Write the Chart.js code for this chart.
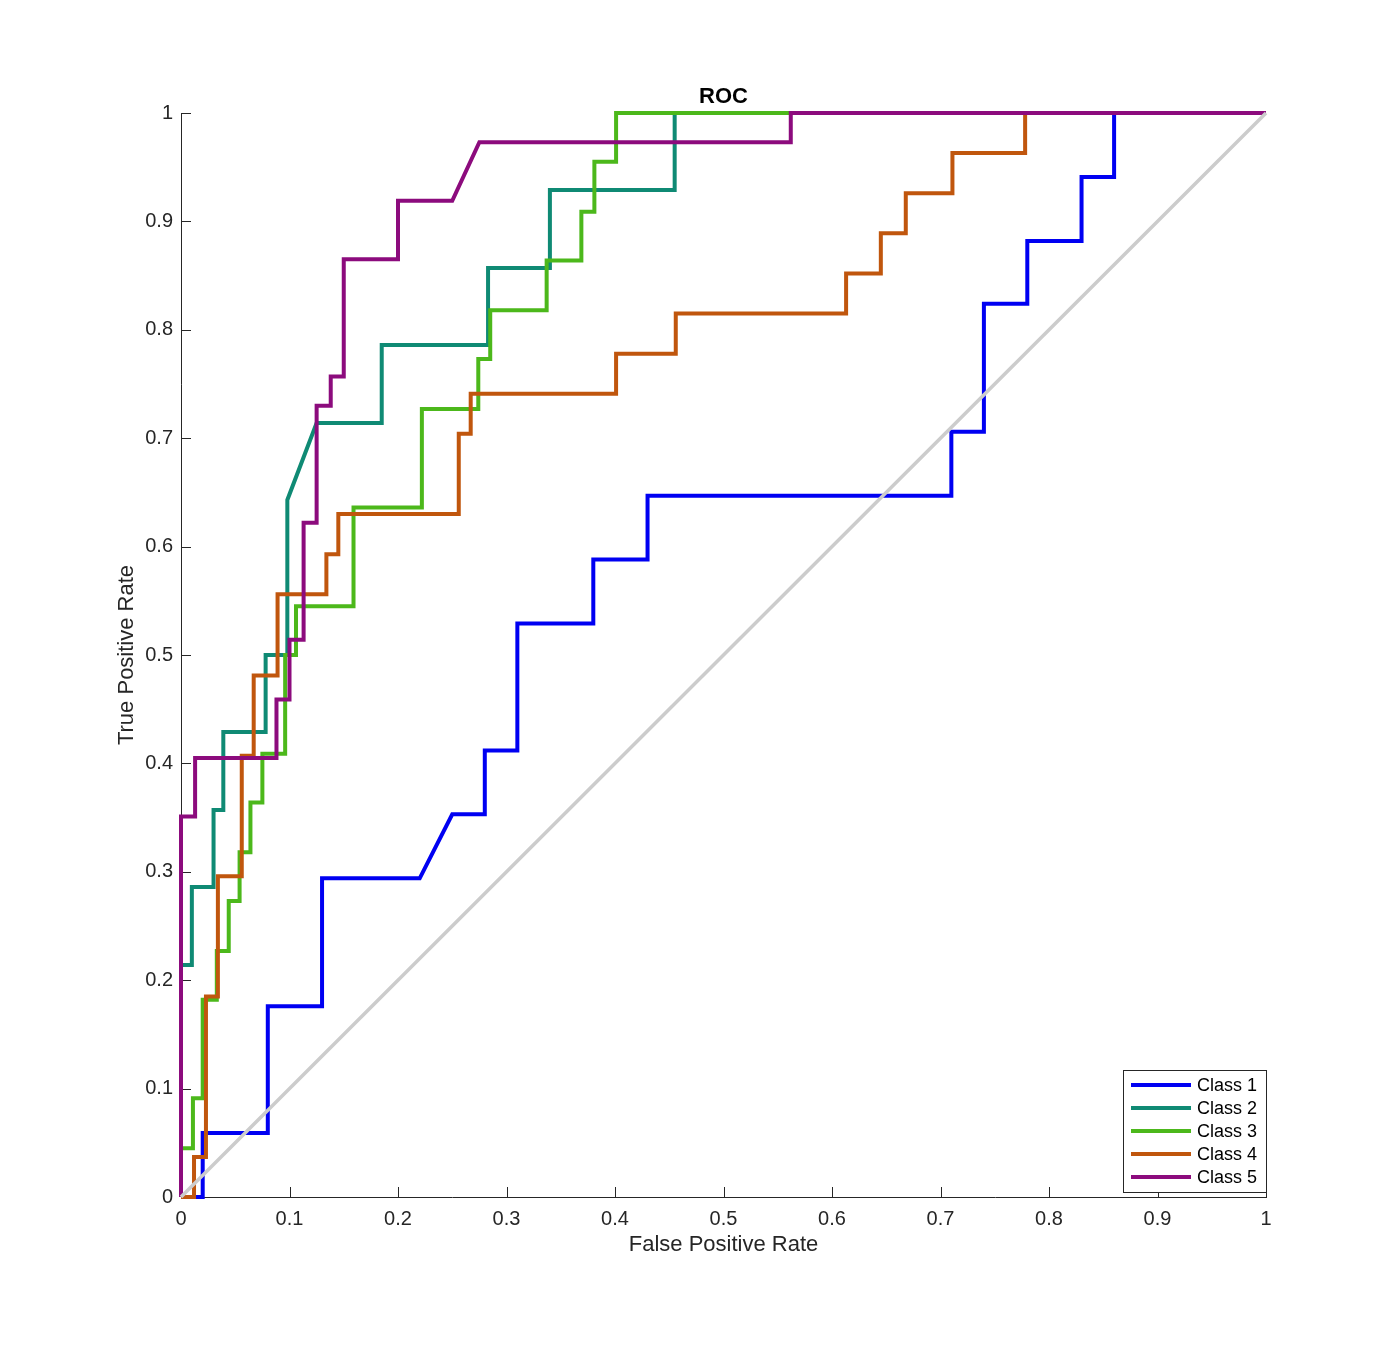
<!DOCTYPE html>
<html>
<head>
<meta charset="utf-8">
<title>ROC</title>
<script src="https://cdn.jsdelivr.net/npm/chart.js@4.4.1/dist/chart.umd.min.js"></script>
<style>
  html, body { margin: 0; padding: 0; background: #fff; }
  #wrap { width: 1400px; height: 1356px; }
</style>
</head>
<body>
<div id="wrap"><canvas id="rocChart" width="1400" height="1356"></canvas></div>
<script>
// ROC curves (false positive rate, true positive rate)
const fpr1 = [0, 0.02, 0.02, 0.08, 0.08, 0.13, 0.13, 0.22, 0.25, 0.28, 0.28, 0.31, 0.31, 0.38, 0.38, 0.43, 0.43, 0.71, 0.71, 0.74, 0.74, 0.78, 0.78, 0.83, 0.83, 0.86, 0.86, 1];
const tpr1 = [0, 0, 0.059, 0.059, 0.176, 0.176, 0.294, 0.294, 0.353, 0.353, 0.412, 0.412, 0.529, 0.529, 0.588, 0.588, 0.647, 0.647, 0.706, 0.706, 0.824, 0.824, 0.882, 0.882, 0.941, 0.941, 1, 1];

const fpr2 = [0, 0, 0.01, 0.01, 0.03, 0.03, 0.039, 0.039, 0.078, 0.078, 0.098, 0.098, 0.125, 0.185, 0.185, 0.283, 0.283, 0.34, 0.34, 0.455, 0.455, 1];
const tpr2 = [0, 0.214, 0.214, 0.286, 0.286, 0.357, 0.357, 0.429, 0.429, 0.5, 0.5, 0.643, 0.714, 0.714, 0.786, 0.786, 0.857, 0.857, 0.929, 0.929, 1, 1];

const fpr3 = [0, 0, 0.011, 0.011, 0.02, 0.02, 0.033, 0.033, 0.044, 0.044, 0.054, 0.054, 0.064, 0.064, 0.075, 0.075, 0.096, 0.096, 0.106, 0.106, 0.159, 0.159, 0.222, 0.222, 0.274, 0.274, 0.285, 0.285, 0.337, 0.337, 0.369, 0.369, 0.381, 0.381, 0.401, 0.401, 1];
const tpr3 = [0, 0.045, 0.045, 0.091, 0.091, 0.182, 0.182, 0.227, 0.227, 0.273, 0.273, 0.318, 0.318, 0.364, 0.364, 0.409, 0.409, 0.5, 0.5, 0.545, 0.545, 0.636, 0.636, 0.727, 0.727, 0.773, 0.773, 0.818, 0.818, 0.864, 0.864, 0.909, 0.909, 0.955, 0.955, 1, 1];

const fpr4 = [0, 0.012, 0.012, 0.023, 0.023, 0.034, 0.034, 0.056, 0.056, 0.067, 0.067, 0.089, 0.089, 0.134, 0.134, 0.145, 0.145, 0.256, 0.256, 0.267, 0.267, 0.401, 0.401, 0.456, 0.456, 0.613, 0.613, 0.645, 0.645, 0.668, 0.668, 0.711, 0.711, 0.778, 0.778, 1];
const tpr4 = [0, 0, 0.037, 0.037, 0.185, 0.185, 0.296, 0.296, 0.407, 0.407, 0.481, 0.481, 0.556, 0.556, 0.593, 0.593, 0.63, 0.63, 0.704, 0.704, 0.741, 0.741, 0.778, 0.778, 0.815, 0.815, 0.852, 0.852, 0.889, 0.889, 0.926, 0.926, 0.963, 0.963, 1, 1];

const fpr5 = [0, 0, 0.013, 0.013, 0.088, 0.088, 0.1, 0.1, 0.113, 0.113, 0.125, 0.125, 0.138, 0.138, 0.15, 0.15, 0.2, 0.2, 0.25, 0.275, 0.562, 0.562, 1];
const tpr5 = [0, 0.351, 0.351, 0.405, 0.405, 0.459, 0.459, 0.514, 0.514, 0.622, 0.622, 0.73, 0.73, 0.757, 0.757, 0.865, 0.865, 0.919, 0.919, 0.973, 0.973, 1, 1];

// chance line
const chanceX = [0, 1];
const chanceY = [0, 1];

const classLabels = ['Class 1', 'Class 2', 'Class 3', 'Class 4', 'Class 5'];
const classColors = ['#0000f2', '#0f8a74', '#4cb81b', '#c0560d', '#8c0b7d'];
const tickValues = [0, 0.1, 0.2, 0.3, 0.4, 0.5, 0.6, 0.7, 0.8, 0.9, 1];
const tickLabels = ['0', '0.1', '0.2', '0.3', '0.4', '0.5', '0.6', '0.7', '0.8', '0.9', '1'];
const chartTitle = 'ROC';

const axisColor = '#262626';
const fontFamily = '"Liberation Sans", Arial, Helvetica, sans-serif';

const toPoints = (xs, ys) => xs.map((x, i) => ({ x: x, y: ys[i] }));

const curves = [
  toPoints(fpr1, tpr1),
  toPoints(fpr2, tpr2),
  toPoints(fpr3, tpr3),
  toPoints(fpr4, tpr4),
  toPoints(fpr5, tpr5)
];

// later classes sit on top, chance line on top of everything
const datasets = curves.map((pts, i) => ({
  label: classLabels[i],
  data: pts,
  borderColor: classColors[i],
  backgroundColor: classColors[i],
  borderWidth: 4,
  showLine: true,
  pointRadius: 0,
  pointHoverRadius: 0,
  tension: 0,
  clip: false,
  order: 10 - i
}));
datasets.push({
  label: 'chance',
  data: toPoints(chanceX, chanceY),
  borderColor: '#cccccc',
  borderWidth: 3.5,
  showLine: true,
  pointRadius: 0,
  pointHoverRadius: 0,
  clip: false,
  order: 0
});

// MATLAB-style inward ticks
const inwardTicks = {
  id: 'inwardTicks',
  beforeDatasetsDraw(chart) {
    const { ctx, chartArea, scales } = chart;
    const len = 10;
    ctx.save();
    ctx.strokeStyle = axisColor;
    ctx.lineWidth = 1;
    ctx.beginPath();
    tickValues.forEach(v => {
      const px = Math.round(scales.x.getPixelForValue(v)) + 0.5;
      ctx.moveTo(px, chartArea.bottom);
      ctx.lineTo(px, chartArea.bottom - len);
      const py = Math.round(scales.y.getPixelForValue(v)) + 0.5;
      ctx.moveTo(chartArea.left, py);
      ctx.lineTo(chartArea.left + len, py);
    });
    ctx.stroke();
    ctx.restore();
  }
};

// title centred over the axes, as MATLAB does
const axesTitle = {
  id: 'axesTitle',
  afterDraw(chart) {
    const { ctx, chartArea } = chart;
    ctx.save();
    ctx.font = 'bold 22px ' + fontFamily;
    ctx.fillStyle = '#000000';
    ctx.textAlign = 'center';
    ctx.textBaseline = 'middle';
    ctx.fillText(chartTitle, (chartArea.left + chartArea.right) / 2, chartArea.top - 16);
    ctx.restore();
  }
};

// boxed legend in the lower right corner
const boxLegend = {
  id: 'boxLegend',
  afterDraw(chart) {
    const { ctx, chartArea } = chart;
    const rowH = 23;
    const boxW = 143;
    const boxH = 122;
    const x0 = chartArea.right - boxW;
    const y0 = chartArea.bottom - boxH - 5;
    ctx.save();
    ctx.fillStyle = '#ffffff';
    ctx.fillRect(x0, y0, boxW, boxH);
    ctx.strokeStyle = axisColor;
    ctx.lineWidth = 1;
    ctx.strokeRect(Math.round(x0) + 0.5, Math.round(y0) + 0.5, boxW, boxH);
    ctx.font = '18px ' + fontFamily;
    ctx.textBaseline = 'middle';
    ctx.textAlign = 'left';
    classLabels.forEach((lab, i) => {
      const cy = y0 + 15 + i * rowH;
      ctx.strokeStyle = classColors[i];
      ctx.lineWidth = 4;
      ctx.beginPath();
      ctx.moveTo(x0 + 8, cy);
      ctx.lineTo(x0 + 68, cy);
      ctx.stroke();
      ctx.fillStyle = '#000000';
      ctx.fillText(lab, x0 + 74, cy + 1);
    });
    ctx.restore();
  }
};

const axisBase = {
  type: 'linear',
  min: 0,
  max: 1,
  afterBuildTicks: scale => {
    scale.ticks = tickValues.map(v => ({ value: v }));
  },
  grid: { display: true, drawOnChartArea: false, drawTicks: false },
  border: { display: true, color: axisColor, width: 1 }
};

new Chart(document.getElementById('rocChart'), {
  type: 'scatter',
  data: { datasets: datasets },
  plugins: [inwardTicks, axesTitle, boxLegend],
  options: {
    responsive: false,
    animation: false,
    devicePixelRatio: 1,
    layout: { padding: { left: 100, right: 134, top: 113, bottom: 89 } },
    scales: {
      x: Object.assign({}, axisBase, {
        position: 'bottom',
        afterFit: scale => { scale.height = 70; },
        ticks: {
          padding: 10,
          color: axisColor,
          font: { family: fontFamily, size: 20 },
          maxRotation: 0,
          callback: (v, i) => tickLabels[i]
        },
        title: {
          display: true,
          text: 'False Positive Rate',
          color: axisColor,
          font: { family: fontFamily, size: 22 },
          padding: { top: 0, bottom: 9 }
        }
      }),
      y: Object.assign({}, axisBase, {
        position: 'left',
        afterFit: scale => { scale.width = 81; },
        ticks: {
          padding: 8,
          color: axisColor,
          font: { family: fontFamily, size: 20 },
          callback: (v, i) => tickLabels[i]
        },
        title: {
          display: true,
          text: 'True Positive Rate',
          color: axisColor,
          font: { family: fontFamily, size: 22 },
          padding: { top: 14, bottom: 0 }
        }
      })
    },
    plugins: {
      legend: { display: false },
      tooltip: { enabled: false },
      title: { display: false }
    }
  }
});
</script>
</body>
</html>
